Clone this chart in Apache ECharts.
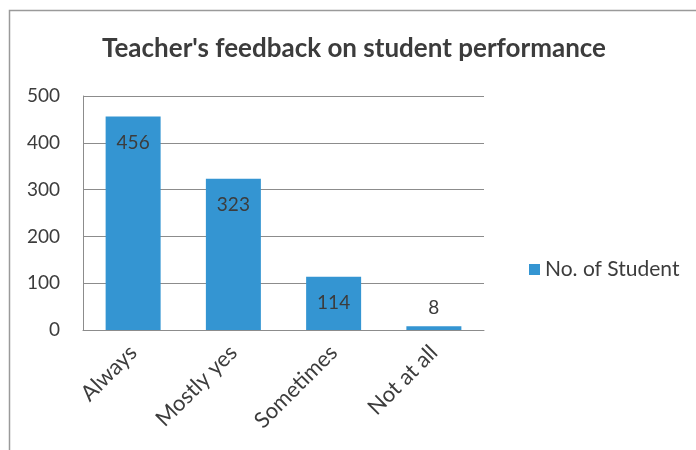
<!DOCTYPE html>
<html>
<head>
<meta charset="utf-8">
<script src="https://cdn.jsdelivr.net/npm/echarts@6/dist/echarts.min.js"></script>
<style>
  html, body { margin: 0; padding: 0; background: #fff; }
  #chart { width: 696px; height: 450px; }
</style>
</head>
<body>
<div id="chart"></div>
<script>
const titleText = "Teacher's feedback on student performance";
const seriesName = "No. of Student";
const categories = ["Always", "Mostly yes", "Sometimes", "Not at all"];
const studentCounts = [456, 323, 114, 8];
const yTicks = { min: 0, max: 500, interval: 100 };

const FONT = "Lato, 'Noto Sans', sans-serif";
const BAR_COLOR = "#3495d2";
const TEXT_COLOR = "#3c3c3c";

// small bars get their label above the bar, like Excel's "inside end" fallback
const barData = studentCounts.map((value) => {
  if (value < 40) {
    return { value, label: { position: "top", distance: 9 } };
  }
  return value;
});

const chart = echarts.init(document.getElementById("chart"), null, { renderer: "canvas" });

chart.setOption({
  animation: false,
  backgroundColor: "#ffffff",
  title: {
    text: titleText,
    left: 349,
    textAlign: "center",
    top: 31,
    textStyle: {
      fontFamily: FONT,
      fontWeight: "bold",
      fontSize: 26,
      color: TEXT_COLOR,
    },
  },
  legend: {
    data: [seriesName],
    left: 524,
    top: 254,
    itemWidth: 11,
    itemHeight: 11,
    itemGap: 8,
    icon: "rect",
    textStyle: { fontFamily: FONT, fontSize: 21, color: TEXT_COLOR },
  },
  grid: {
    left: 83,
    top: 96,
    width: 401,
    height: 234,
    containLabel: false,
  },
  xAxis: {
    type: "category",
    data: categories,
    axisLine: { show: true, lineStyle: { color: "#8c8c8c", width: 1 } },
    axisTick: { show: false },
    axisLabel: {
      rotate: 45,
      interval: 0,
      margin: 19,
      fontFamily: FONT,
      fontSize: 22,
      color: TEXT_COLOR,
    },
  },
  yAxis: {
    type: "value",
    min: yTicks.min,
    max: yTicks.max,
    interval: yTicks.interval,
    axisLine: { show: true, lineStyle: { color: "#8c8c8c", width: 1 } },
    axisTick: { show: false },
    axisLabel: {
      margin: 23,
      fontFamily: FONT,
      fontSize: 19,
      color: TEXT_COLOR,
    },
    splitLine: { show: true, lineStyle: { color: "#8c8c8c", width: 1 } },
  },
  series: [
    {
      name: seriesName,
      type: "bar",
      data: barData,
      barWidth: 55,
      itemStyle: { color: BAR_COLOR },
      label: {
        show: true,
        position: "insideTop",
        distance: 17,
        fontFamily: FONT,
        fontSize: 19,
        color: TEXT_COLOR,
      },
    },
  ],
  graphic: [
    {
      type: "polyline",
      silent: true,
      shape: { points: [[9.5, 450], [9.5, 10.5], [696, 10.5]] },
      style: { fill: null, stroke: "#9a9a9a", lineWidth: 1.5 },
    },
  ],
});
</script>
</body>
</html>
